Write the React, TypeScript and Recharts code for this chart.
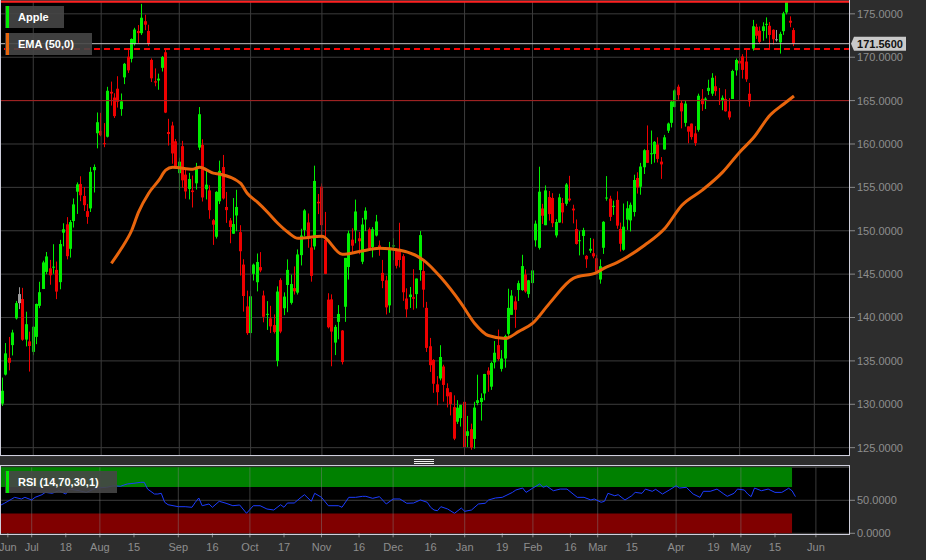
import React from "react";
import {
  ComposedChart,
  Bar,
  Line,
  XAxis,
  YAxis,
  CartesianGrid,
  ReferenceLine,
  ReferenceArea,
} from "recharts";

const BG = "#2d2d2d";
const GRID = "#3c3c3c";
const AXIS_TEXT = "#8e8e8e";
const UP = "#00ee00";
const DOWN = "#ee0000";
const FLAT = "#9a9a9a";
const EMA_COLOR = "#e8650c";
const RSI_COLOR = "#1c3cff";
const FONT = '"Liberation Sans", Arial, sans-serif';

// daily candles [open, high, low, close]
const jun22 = [
  [132.08, 132.39, 129.04, 130.06], [130.07, 133.08, 129.81, 131.56], [133.42, 137.06, 133.32, 135.87],
  [134.79, 137.76, 133.91, 135.35], [136.82, 138.59, 135.63, 138.27], [139.9, 141.91, 139.77, 141.66],
  [142.7, 143.49, 140.97, 141.66], [142.13, 143.42, 137.32, 137.44], [137.46, 140.67, 136.67, 139.23],
  [137.25, 138.37, 133.77, 136.72],
];
const jul22 = [
  [136.04, 139.04, 135.66, 138.93], [137.77, 141.61, 136.93, 141.56], [141.35, 144.12, 141.08, 142.92],
  [143.29, 146.55, 143.28, 146.35], [145.26, 147.55, 145.0, 147.04], [145.67, 146.64, 143.78, 144.87],
  [145.76, 148.45, 145.05, 145.86], [142.99, 146.45, 142.12, 145.49], [144.08, 148.95, 143.25, 148.47],
  [149.78, 150.86, 148.2, 150.17], [150.74, 151.57, 146.7, 147.07], [147.92, 151.23, 146.91, 151.0],
  [151.12, 153.72, 150.37, 153.04], [154.5, 155.57, 151.94, 155.35], [155.39, 156.28, 153.41, 154.09],
  [154.01, 155.04, 152.28, 152.95], [152.26, 153.09, 150.8, 151.6], [152.58, 157.33, 152.16, 156.79],
  [156.98, 157.64, 154.41, 157.35], [161.24, 163.63, 159.5, 162.51],
];
const aug22 = [
  [161.01, 163.59, 160.89, 161.51], [160.1, 162.41, 159.63, 160.01], [160.84, 166.59, 160.75, 166.13],
  [166.01, 167.19, 164.43, 165.81], [163.21, 165.85, 163.0, 165.35], [166.37, 167.81, 164.2, 164.87],
  [164.02, 165.82, 163.25, 164.92], [167.68, 169.34, 166.9, 169.24], [170.06, 170.99, 168.19, 168.49],
  [169.82, 172.17, 169.4, 172.1], [171.52, 173.39, 171.35, 173.19], [172.78, 173.71, 171.66, 173.03],
  [172.77, 176.15, 172.57, 174.55], [173.75, 174.9, 173.12, 174.15], [173.03, 173.74, 171.31, 171.52],
  [169.69, 169.86, 167.14, 167.57], [167.08, 168.71, 166.65, 167.23], [167.32, 168.11, 166.25, 167.53],
  [168.78, 170.14, 168.35, 170.03], [170.57, 171.05, 163.56, 163.62], [161.15, 162.9, 159.82, 161.38],
  [162.13, 162.56, 157.72, 158.91], [160.31, 160.58, 157.14, 157.22],
];
const sep22 = [
  [156.64, 158.42, 154.67, 157.96], [159.75, 160.36, 154.97, 155.81], [156.47, 157.09, 153.69, 154.53],
  [154.82, 156.67, 153.61, 155.96], [154.64, 156.36, 152.68, 154.46], [155.47, 157.82, 154.75, 157.37],
  [159.59, 164.26, 159.3, 163.43], [159.9, 160.54, 153.37, 153.84], [154.79, 157.1, 153.61, 155.31],
  [154.65, 155.24, 151.38, 152.37], [151.21, 151.35, 148.37, 150.7], [149.31, 154.56, 149.1, 154.48],
  [153.4, 158.08, 153.08, 156.9], [157.34, 158.74, 153.6, 153.72], [152.38, 154.47, 150.91, 152.74],
  [151.19, 151.47, 148.56, 150.43], [149.66, 153.77, 149.64, 150.77], [152.74, 154.72, 149.95, 151.76],
  [147.64, 150.64, 144.84, 149.84], [146.1, 146.72, 140.68, 142.48], [141.28, 143.1, 138.0, 138.2],
];
const oct22 = [
  [138.21, 143.07, 137.69, 142.45], [145.03, 146.22, 144.26, 146.1], [144.07, 147.38, 143.01, 146.4],
  [145.81, 147.54, 145.22, 145.43], [142.54, 143.1, 139.45, 140.09], [140.42, 141.89, 138.57, 140.42],
  [139.9, 141.35, 138.22, 138.98], [139.13, 140.36, 138.16, 138.34], [134.99, 143.59, 134.37, 142.99],
  [144.31, 144.52, 138.19, 138.38], [141.07, 142.9, 140.27, 142.41], [145.49, 146.7, 140.61, 143.75],
  [141.69, 144.95, 141.5, 143.86], [143.02, 145.89, 142.65, 143.39], [142.87, 147.85, 142.65, 147.27],
  [147.19, 150.23, 146.0, 149.45], [150.09, 152.49, 149.36, 152.34], [150.96, 151.99, 148.04, 149.35],
  [148.07, 149.05, 144.13, 144.8], [148.2, 157.5, 147.82, 155.74], [153.16, 154.24, 151.92, 153.34],
];
const nov22 = [
  [155.08, 155.45, 149.13, 150.65], [148.95, 152.17, 145.0, 145.03], [142.06, 142.8, 138.75, 138.88],
  [142.09, 142.67, 134.38, 138.38], [137.11, 139.15, 135.67, 138.92], [140.41, 141.43, 137.49, 139.5],
  [138.5, 138.55, 134.59, 134.87], [141.24, 146.87, 139.5, 146.87], [145.82, 150.01, 144.37, 149.7],
  [148.97, 150.28, 147.43, 148.28], [152.22, 153.59, 148.56, 150.04], [149.13, 149.87, 147.29, 148.79],
  [146.43, 151.48, 146.15, 150.72], [152.31, 152.7, 149.97, 151.29], [150.16, 150.37, 147.72, 148.01],
  [148.13, 150.42, 146.93, 150.18], [149.45, 151.83, 149.34, 151.07], [148.31, 148.88, 147.12, 148.11],
  [145.14, 146.64, 143.38, 144.22], [144.29, 144.81, 140.35, 141.17], [141.4, 148.72, 140.55, 148.03],
];
const dec22 = [
  [148.21, 149.13, 146.61, 148.31], [145.96, 148.0, 145.65, 147.81], [147.77, 150.92, 145.77, 146.63],
  [147.07, 147.3, 141.92, 142.91], [142.19, 143.37, 140.0, 140.94], [142.36, 143.52, 141.1, 142.65],
  [142.34, 145.57, 140.9, 142.16], [142.7, 144.5, 141.06, 144.49], [149.5, 149.97, 144.24, 145.47],
  [145.35, 146.66, 141.16, 143.21], [141.11, 141.8, 136.03, 136.5], [136.69, 137.65, 133.73, 134.51],
  [135.11, 135.2, 131.32, 132.37], [131.39, 133.25, 129.89, 132.3], [132.98, 136.81, 132.75, 135.45],
  [134.35, 134.56, 130.3, 132.23], [130.92, 132.42, 129.64, 131.86], [131.38, 131.41, 128.72, 130.03],
  [129.67, 131.03, 125.87, 126.04], [127.99, 130.48, 127.73, 129.61], [128.41, 129.95, 127.43, 129.93],
];
const jan23 = [
  [130.28, 130.9, 124.17, 125.07], [126.89, 128.66, 125.08, 126.36], [127.13, 127.77, 124.76, 125.02],
  [126.01, 130.29, 124.89, 129.62], [130.47, 133.41, 129.89, 130.15], [130.26, 131.26, 128.12, 130.73],
  [131.25, 133.51, 130.46, 133.49], [133.88, 134.26, 131.44, 133.41], [132.03, 134.92, 131.66, 134.76],
  [134.83, 137.29, 134.13, 135.94], [136.82, 138.61, 135.03, 135.21], [134.08, 136.25, 133.77, 135.27],
  [135.28, 138.02, 134.22, 137.87], [138.12, 143.32, 137.9, 141.11], [140.31, 143.16, 140.3, 142.53],
  [140.89, 142.43, 138.81, 141.86], [143.17, 144.25, 141.9, 143.96], [143.16, 147.23, 143.08, 145.93],
  [144.96, 145.55, 142.85, 143.0], [142.7, 144.34, 142.28, 144.29],
];
const feb23 = [
  [143.97, 146.61, 141.32, 145.43], [148.9, 151.18, 148.17, 150.82], [148.03, 157.38, 147.83, 154.5],
  [152.57, 153.1, 150.78, 151.73], [150.64, 155.23, 150.64, 154.65], [153.88, 154.58, 151.17, 151.92],
  [153.78, 154.33, 150.42, 150.87], [149.46, 151.34, 149.22, 151.01], [150.95, 154.26, 150.92, 153.85],
  [152.12, 153.77, 150.86, 153.2], [153.11, 155.5, 152.88, 155.33], [153.51, 156.33, 153.35, 153.71],
  [152.35, 153.0, 150.85, 152.55], [150.2, 151.3, 148.41, 148.48], [148.87, 149.95, 147.16, 148.91],
  [150.09, 150.34, 147.24, 149.4], [147.11, 147.19, 145.72, 146.71], [147.71, 149.17, 147.45, 147.92],
  [147.05, 149.08, 146.83, 147.41],
];
const mar23 = [
  [146.83, 147.23, 145.01, 145.31], [144.38, 146.71, 143.9, 145.91], [148.04, 151.11, 147.33, 151.03],
  [153.79, 156.3, 153.46, 153.83], [153.7, 154.03, 151.13, 151.6], [152.81, 153.47, 151.83, 152.87],
  [153.56, 154.54, 150.23, 150.59], [150.21, 150.94, 147.61, 148.5], [147.81, 153.14, 147.7, 150.47],
  [151.28, 153.4, 150.1, 152.59], [151.19, 153.25, 149.92, 152.99], [152.16, 156.46, 151.64, 155.85],
  [156.08, 156.74, 154.28, 155.0], [155.07, 157.82, 154.15, 157.4], [157.32, 159.4, 156.54, 159.28],
  [159.3, 162.14, 157.81, 157.83], [158.83, 161.55, 157.68, 158.93], [158.86, 160.34, 157.85, 160.25],
  [159.94, 160.77, 157.87, 158.28], [157.97, 158.49, 155.98, 157.65], [159.37, 161.05, 159.35, 160.77],
  [161.53, 162.47, 161.27, 162.36], [162.44, 165.0, 161.91, 164.9],
];
const apr23 = [
  [164.27, 166.29, 164.22, 166.17], [166.6, 166.84, 165.11, 165.63], [164.74, 165.05, 161.8, 163.76],
  [162.43, 164.96, 162.0, 164.66], [161.42, 162.03, 160.08, 162.03], [162.35, 162.36, 160.51, 160.8],
  [161.22, 162.06, 159.78, 160.1], [161.63, 165.8, 161.42, 165.56], [164.59, 166.32, 163.82, 165.21],
  [165.09, 165.39, 164.03, 165.23], [166.1, 167.41, 165.65, 166.47], [165.8, 168.16, 165.54, 167.63],
  [166.09, 167.87, 165.56, 166.65], [165.05, 166.45, 164.49, 165.02], [165.0, 165.6, 163.89, 165.33],
  [165.19, 166.31, 163.73, 163.77], [163.06, 165.28, 162.8, 163.76], [165.19, 168.56, 165.19, 168.41],
  [168.49, 169.85, 167.88, 169.68],
];
const may23 = [
  [169.28, 170.45, 168.64, 169.59], [170.09, 170.35, 167.54, 168.54], [169.5, 170.92, 167.16, 167.45],
  [164.89, 167.04, 164.31, 165.79], [170.98, 174.3, 170.76, 173.57], [172.48, 173.85, 172.11, 173.5],
  [173.05, 173.54, 171.6, 171.77], [173.02, 174.03, 171.9, 173.56], [173.85, 174.59, 172.17, 173.75],
  [173.62, 174.06, 171.0, 172.57], [173.16, 173.21, 171.47, 172.07], [171.99, 173.14, 171.8, 172.07],
  [171.71, 172.93, 170.42, 172.69], [173.0, 175.24, 172.58, 175.05], [176.39, 176.39, 174.94, 175.16],
  [173.98, 174.71, 173.45, 174.2], [173.13, 173.38, 171.28, 171.56],
];
const PREV_CLOSE = 135.43;
const FUTURE_SLOTS = 16;

// EMA (50): [slot, value]
const emaPoints = [
  [33, 146.25], [36, 147.98], [39, 150.06], [41, 152.14], [44, 154.33], [47, 155.83], [49, 156.99],
  [51, 157.33], [57, 157.1], [59, 157.33], [63, 156.64], [65, 156.52], [71, 155.49], [73, 154.33],
  [76, 153.29], [79, 152.14], [82, 150.87], [85, 149.83], [88, 149.13], [95, 149.36], [101, 147.29],
  [106, 147.6], [112, 147.98], [118, 147.75], [125, 146.59], [130, 144.63], [136, 141.63], [140, 139.32],
  [144, 137.93], [149, 137.59], [153, 138.4], [157, 139.32], [162, 141.63], [169, 144.51], [176, 145.21],
  [178, 145.67], [182, 146.36], [190, 148.33], [196, 150.29], [201, 152.94], [207, 154.68], [213, 156.76],
  [218, 159.06], [222, 160.68], [227, 163.34], [231, 164.61], [234, 165.53],
];

// RSI (14): [slot, value]
const rsiPoints = [
  [0, 40.3], [2, 45.5], [3, 48.5], [5, 54.5], [7, 52], [8, 54.5], [10, 50.5], [11, 54.5], [13, 58.5],
  [14, 62], [16, 60.6], [18, 64.5], [20, 59.5], [21, 67], [24, 64.5], [26, 62], [29, 68.6], [32, 69.7],
  [34, 72], [36, 71.2], [38, 74.7], [40, 75.8], [42, 77.3], [43, 77.3], [44, 67], [46, 59.5], [47, 59.5],
  [48, 60.6], [49, 47], [50, 43.3], [53, 40.3], [55, 40.3], [57, 39.4], [58, 47], [59, 53.5], [60, 41.8],
  [62, 44.4], [63, 39.4], [65, 48.5], [67, 45.5], [69, 41.8], [71, 42.9], [73, 30.3], [75, 41.8],
  [77, 41.8], [79, 36.8], [81, 35.3], [83, 43.3], [84, 39.4], [85, 45.9], [87, 45.9], [89, 54.5],
  [90, 58.5], [92, 48.5], [93, 60.6], [95, 54.5], [97, 41.8], [100, 41.8], [101, 39.4], [103, 54.5],
  [105, 54.5], [107, 56], [108, 56], [110, 53], [112, 55.5], [114, 44.4], [116, 52], [118, 52],
  [120, 45.5], [122, 45.9], [124, 50.5], [126, 47], [127, 39.4], [128, 35.3], [129, 34.2], [130, 40.3],
  [132, 36.8], [134, 30.3], [136, 38.3], [137, 33.3], [139, 35.3], [141, 44.4], [143, 45.5], [144, 50.5],
  [146, 53.5], [148, 54.5], [151, 62], [152, 65.6], [154, 68.6], [155, 62], [157, 68.6], [159, 74.7],
  [160, 69.7], [161, 71.7], [163, 64.5], [165, 67], [167, 67], [170, 54.5], [172, 54.5], [174, 50.5],
  [175, 52], [177, 47], [178, 48.5], [179, 60.6], [181, 56.9], [182, 58.5], [184, 50.5], [186, 56.9],
  [187, 62], [189, 60.6], [190, 67], [192, 63.6], [193, 66.6], [195, 59.5], [197, 65.6], [199, 72],
  [200, 68.6], [202, 69.7], [204, 59.5], [206, 54.5], [207, 63.6], [209, 63.6], [211, 67], [213, 59.5],
  [214, 56], [216, 60.6], [217, 67], [219, 65.6], [220, 59.5], [221, 55.5], [222, 68.6], [224, 64.5],
  [226, 67], [228, 62], [230, 62], [232, 68.2], [233, 64.5], [234, 55.5],
];

const monthStarts = [10, 30, 53, 74, 95, 116, 137, 157, 176, 199, 218, 240];
const tickSlots = [3, 10, 20, 30, 40, 53, 63, 74, 84, 95, 106, 116, 127, 137, 148, 157, 168, 176, 186, 199, 210, 218, 228, 240];
const tickLabels = ["Jun", "Jul", "18", "Aug", "15", "Sep", "16", "Oct", "17", "Nov", "16", "Dec", "16", "Jan", "19", "Feb", "16", "Mar", "15", "Apr", "19", "May", "15", "Jun"];
const priceTicks = [125, 130, 135, 140, 145, 150, 155, 160, 165, 170, 175];
const PRICE_DOMAIN = [124.04, 176.48];
const HIGH_MARK = 176.39;
const DASH_LEVEL = 170.96;
const RED_LEVEL = 165;
const LAST_PRICE = 171.56;

const candles = [
  ...jun22, ...jul22, ...aug22, ...sep22, ...oct22, ...nov22,
  ...dec22, ...jan23, ...feb23, ...mar23, ...apr23, ...may23,
];

const rows: any[] = Array.from({ length: candles.length + FUTURE_SLOTS }, (_, i) => {
  const c = candles[i];
  const row: any = { slot: i, ema: null };
  if (c) {
    row.open = c[0];
    row.high = c[1];
    row.low = c[2];
    row.close = c[3];
    row.prev = i === 0 ? PREV_CLOSE : candles[i - 1][3];
  }
  return row;
});
emaPoints.forEach(([s, v]) => (rows[s].ema = v));

const rsiRows: any[] = rows.map((r) => ({ slot: r.slot, rsi: null }));
rsiPoints.forEach(([s, v]) => (rsiRows[s].rsi = v));

function Candle(props: any) {
  const { x, y, width, height, payload } = props;
  if (!payload || payload.close == null || !isFinite(y) || !isFinite(height)) return null;
  const { open, high, low, close, prev } = payload;
  const top0 = Math.min(y, y + height);
  const h = Math.abs(height);
  const k = h / (high - low);
  const py = (v: number) => top0 + (high - v) * k;
  const color = close > prev ? UP : close < prev ? DOWN : FLAT;
  const cx = Math.floor(x + width / 2) + 0.5;
  const bTop = py(Math.max(open, close));
  const bBot = py(Math.min(open, close));
  return (
    <g>
      <line x1={cx} x2={cx} y1={top0} y2={top0 + h} stroke={color} strokeWidth={1} />
      <rect x={cx - 1.5} y={bTop} width={3} height={Math.max(bBot - bTop, 1)} fill={color} />
    </g>
  );
}

function PriceTag(props: any) {
  const vb = props.viewBox || {};
  const x = (vb.x || 0) + (vb.width || 0);
  const y = vb.y || 0;
  return (
    <g>
      <path d={`M${x + 1},${y} L${x + 4},${y - 7} H${x + 56} V${y + 7} H${x + 4} Z`} fill="#c9c9c9" />
      <text x={x + 30} y={y} dy="0.36em" textAnchor="middle" fontSize={11} fontWeight="bold" fill="#111" fontFamily={FONT}>
        {LAST_PRICE.toFixed(4)}
      </text>
    </g>
  );
}

const tickStyle = { fill: AXIS_TEXT, fontSize: 11, fontFamily: FONT };

function LegendTag({ top, width, color, text }: { top: number; width: number; color: string; text: string }) {
  return (
    <div
      style={{
        position: "absolute",
        left: 5,
        top,
        width,
        height: 22,
        background: "rgba(70,70,70,0.9)",
        color: "#fff",
        fontFamily: FONT,
        fontWeight: "bold",
        fontSize: 11,
        lineHeight: "22px",
        boxSizing: "border-box",
        paddingLeft: 13,
        whiteSpace: "nowrap",
      }}
    >
      <div style={{ position: "absolute", left: 1, top: 0, width: 3, height: 22, background: color }} />
      {text}
    </div>
  );
}

export default function App() {
  return (
    <div
      style={{
        position: "fixed",
        left: 0,
        top: 0,
        width: 926,
        height: 560,
        background: BG,
        overflow: "hidden",
        fontFamily: FONT,
      }}
    >
      <div style={{ position: "absolute", left: 0, top: 0 }}>
        <ComposedChart width={926} height={457} data={rows} margin={{ top: 1, right: 0, bottom: 1, left: -2.4 }}>
          <CartesianGrid vertical={false} stroke={GRID} fill="#000" />
          <XAxis dataKey="slot" type="category" hide />
          <YAxis
            orientation="right"
            domain={PRICE_DOMAIN}
            ticks={priceTicks}
            allowDataOverflow
            width={76}
            axisLine={false}
            tickSize={5}
            tickLine={{ stroke: "#8a8a8a" }}
            tick={tickStyle}
            tickFormatter={(v: number) => v.toFixed(4)}
          />
          {monthStarts.map((s) => (
            <ReferenceLine key={s} x={s} stroke={GRID} />
          ))}
          <ReferenceLine y={RED_LEVEL} stroke="#a82020" />
          <Bar
            dataKey={(d: any) => (d.close == null ? null : [d.low, d.high])}
            barSize={3}
            shape={(p: any) => <Candle {...p} />}
            isAnimationActive={false}
          />
          <Line
            dataKey="ema"
            type="monotone"
            stroke={EMA_COLOR}
            strokeWidth={3}
            dot={false}
            connectNulls
            isAnimationActive={false}
          />
          <ReferenceLine y={HIGH_MARK} stroke="#ff2020" strokeWidth={2} />
          <ReferenceLine y={DASH_LEVEL} stroke="#ff0000" strokeWidth={2} strokeDasharray="6 4" />
          <ReferenceLine y={LAST_PRICE} stroke="#c4c4c4" label={(p: any) => <PriceTag viewBox={p.viewBox} />} />
        </ComposedChart>
      </div>

      <div style={{ position: "absolute", left: 0, top: 460 }}>
        <ComposedChart width={926} height={100} data={rsiRows} margin={{ top: 7.3, right: 0, bottom: 0, left: -2.4 }}>
          <CartesianGrid vertical={false} stroke={GRID} fill="#000" />
          <XAxis
            dataKey="slot"
            type="category"
            ticks={tickSlots}
            interval={0}
            height={26.7}
            axisLine={false}
            tickSize={4}
            tickMargin={6}
            tickLine={{ stroke: "#8a8a8a" }}
            tick={tickStyle}
            tickFormatter={(v: number) => tickLabels[tickSlots.indexOf(v)] ?? ""}
          />
          <YAxis
            orientation="right"
            domain={[0, 100]}
            ticks={[0, 50]}
            width={76}
            axisLine={false}
            tickSize={5}
            tickLine={{ stroke: "#8a8a8a" }}
            tick={tickStyle}
            tickFormatter={(v: number) => v.toFixed(4)}
          />
          <ReferenceArea x1={0} x2={233} y1={70} y2={100} fill="#008000" fillOpacity={1} stroke="none" />
          <ReferenceArea x1={0} x2={233} y1={0} y2={30} fill="#800000" fillOpacity={1} stroke="none" />
          {monthStarts.map((s) => (
            <ReferenceLine key={s} x={s} stroke="#808080" strokeOpacity={0.45} />
          ))}
          <Line
            dataKey="rsi"
            type="linear"
            stroke={RSI_COLOR}
            strokeWidth={1}
            dot={false}
            connectNulls
            isAnimationActive={false}
          />
        </ComposedChart>
      </div>

      {/* panel borders */}
      <div
        style={{
          position: "absolute",
          left: 0,
          top: -1,
          width: 850,
          height: 457,
          border: "1px solid #cfcfdc",
          borderTop: "none",
          boxSizing: "border-box",
          pointerEvents: "none",
        }}
      />
      <div
        style={{
          position: "absolute",
          left: 0,
          top: 465,
          width: 850,
          height: 70,
          border: "1px solid #cfcfdc",
          boxSizing: "border-box",
          pointerEvents: "none",
        }}
      />
      {/* splitter grip */}
      {[459, 461, 463].map((t) => (
        <div key={t} style={{ position: "absolute", left: 414, top: t, width: 20, height: 1, background: "#f0f0f0" }} />
      ))}

      <LegendTag top={6} width={59} color="#00ee00" text="Apple" />
      <LegendTag top={33} width={87} color={EMA_COLOR} text="EMA (50,0)" />
      <LegendTag top={471} width={112} color="#00ee00" text="RSI (14,70,30,1)" />
    </div>
  );
}
